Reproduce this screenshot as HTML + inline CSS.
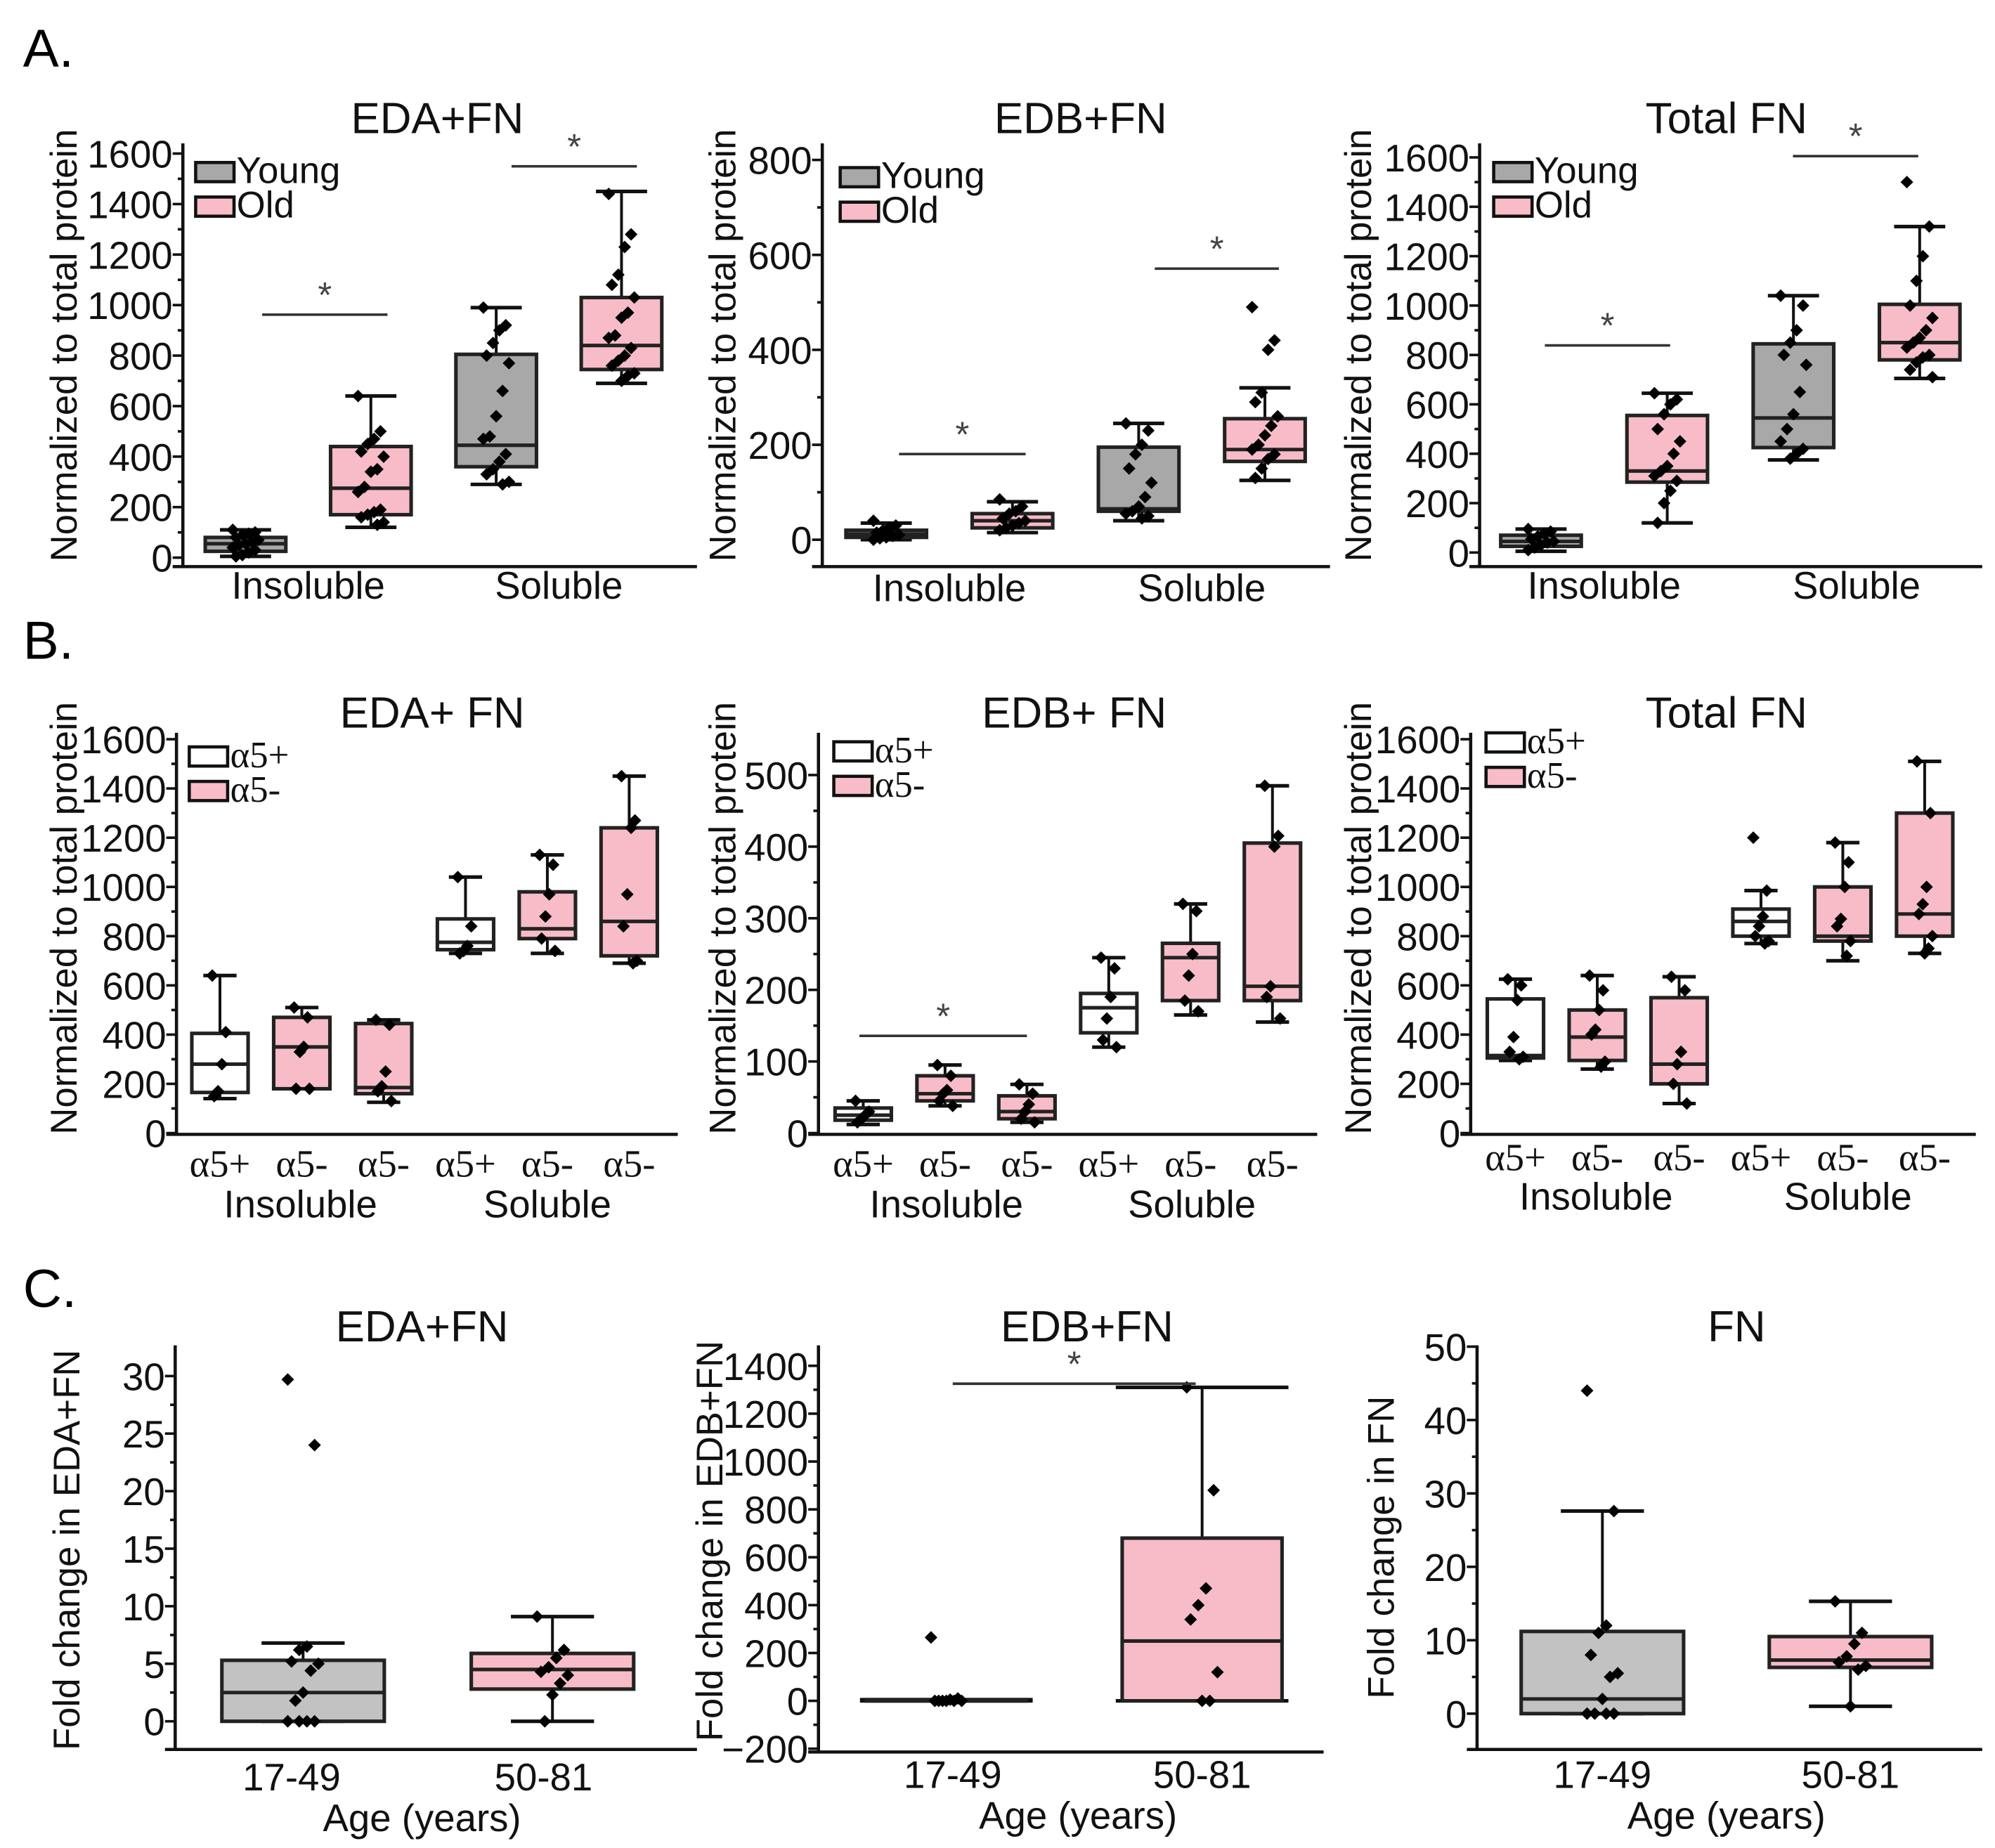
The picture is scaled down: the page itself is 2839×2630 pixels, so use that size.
<!DOCTYPE html>
<html><head><meta charset="utf-8"><style>
html,body{margin:0;padding:0;background:#fff;}
svg{display:block;font-family:"Liberation Sans",Arial,sans-serif;}
</style></head><body>
<svg id="fig" xmlns="http://www.w3.org/2000/svg" width="2839" height="2630" viewBox="0 0 1560 1445">
<text x="18" y="52" font-size="42">A.</text>
<text x="18" y="515" font-size="42">B.</text>
<text x="18" y="1022" font-size="42">C.</text>
</svg>
<script>
// ---- data ----
const catA = ["Insoluble","Soluble"];
const subB = ["α5+","α5-","α5-","α5+","α5-","α5-"];
const catC = ["17-49","50-81"];
// box stats: [whiskerLo, q1, median, q3, whiskerHi]
const a1Boxes = [[5,25,55,80,110],[120,170,275,440,640],[290,360,445,805,990],[690,745,840,1030,1450]];
const a1Pts = [[110,100,95,90,80,70,60,55,50,40,30,20,10,5],[640,500,470,450,420,400,350,340,280,260,190,180,170,160,140,130],[990,920,900,850,800,770,660,560,480,470,410,380,350,330,300,290],[1440,1280,1230,1120,1080,1030,970,950,880,870,830,800,780,760,730,720,700]];
const a2Boxes = [[0,5,12,20,35],[15,25,40,55,80],[40,60,65,195,245],[125,165,190,255,320]];
const a2Pts = [[40,30,25,20,15,10,8,5,3,0],[85,70,60,55,45,40,35,30,25,20],[245,230,200,180,150,120,90,70,60,55,50,45],[490,420,400,310,290,260,240,220,200,190,180,170,150,130]];
const a3Boxes = [[5,25,45,70,95],[120,285,330,555,645],[375,425,545,845,1040],[705,780,850,1005,1320]];
const a3Pts = [[95,85,75,65,55,45,40,30,20,10],[645,620,600,560,500,450,400,350,330,310,290,250,200,120],[1040,1000,900,850,800,760,650,560,500,450,420,400,380],[1500,1320,1200,1100,1000,950,900,870,850,830,800,790,770,740,710]];
const b1Boxes = [[140,165,280,405,640],[180,180,350,470,510],[125,160,185,445,460],[730,745,775,870,1040],[730,790,830,980,1130],[690,720,860,1240,1450]];
const b1Pts = [[640,410,280,170,150],[510,470,350,330,180,180],[460,440,250,190,170,130],[1040,840,760,740,730],[1130,1090,970,880,790,740],[1450,1270,1240,970,840,700,690]];
const b2Boxes = [[12,18,25,35,45],[38,45,55,80,95],[15,20,30,52,68],[120,140,175,195,245],[165,185,245,265,320],[155,185,205,405,485]];
const b2Pts = [[45,30,25,20,15],[95,80,60,55,45,38],[68,55,40,30,20,15],[245,230,190,160,130,120],[320,310,250,220,185,170],[485,415,400,205,190,160]];
const b3Boxes = [[295,305,315,545,625],[260,295,390,500,640],[120,200,280,550,635],[770,800,860,910,985],[700,780,800,1000,1180],[730,800,890,1300,1510]];
const b3Pts = [[625,600,540,390,330,310,300],[640,580,500,420,400,290,270],[635,580,330,280,200,120],[1200,985,880,840,800,780,770],[1180,1100,1000,870,840,780,720],[1510,1300,1000,930,890,800,750,730]];
const c1Boxes = [[0,0,2.5,5.3,6.8],[0,2.8,4.5,5.9,9.1]];
const c1Pts = [[29.7,24,6.5,6.2,5.2,5,4.4,2.5,1.8,0,0,0,0],[9.1,6.2,5.5,4.7,4.3,4,3.3,2.3,0]];
const c2Boxes = [[0,0,0,5,5],[0,0,250,680,1310]];
const c2Pts = [[265,10,5,0,0,0,0,0,0],[1310,880,470,400,340,120,0,0]];
const c3Boxes = [[0,0,2,11.2,27.6],[1,6.3,7.3,10.5,15.3]];
const c3Pts = [[44,27.6,12,11,8,5.5,5,2,0,0,0,0],[15.3,11,9.5,7.8,7,6.5,6,1]];
const tA16 = [0,200,400,600,800,1000,1200,1400,1600];
const tA8 = [0,200,400,600,800];
const tB5 = [0,100,200,300,400,500];
const tC1 = [0,5,10,15,20,25,30];
const tC2 = [-200,0,200,400,600,800,1000,1200,1400];
const tC3 = [0,10,20,30,40,50];

// ---- drawing ----
const svg = document.getElementById('fig');
const NS = 'http://www.w3.org/2000/svg';
function mk(tag, attrs, parent){const e=document.createElementNS(NS,tag);for(const k in attrs)e.setAttribute(k,attrs[k]);(parent||svg).appendChild(e);return e;}
function txt(s,x,y,size,anchor,parent,extra){const e=mk('text',Object.assign({x:x,y:y,'font-size':size,'text-anchor':anchor||'middle',fill:'#111'},extra||{}),parent);e.textContent=s;return e;}
const GRAY='#a8a8a8', LGRAY='#c2c2c2', PINK='#f7bcc8', WHITE='#ffffff';

function panel(cfg){
  const g=mk('g',{});
  
  
  const y=v=>cfg.py0+(v-cfg.v0)*(cfg.py1-cfg.py0)/(cfg.v1-cfg.v0);
  const x=i=>cfg.xs+i*cfg.step;
  const t=txt(cfg.title,cfg.titleX,cfg.titleY,34,'middle',g);
  
  const ya=mk('line',{x1:cfg.left,x2:cfg.left,y1:cfg.top,y2:cfg.bottom,stroke:'#111','stroke-width':2.5},g);
  
  const xa=mk('line',{x1:cfg.left-8,x2:cfg.right,y1:cfg.bottom,y2:cfg.bottom,stroke:'#111','stroke-width':2.5},g);
  
  const ticks=cfg.ticks; const minor=(ticks[1]-ticks[0])/2;
  for(let v=ticks[0];v<=ticks[ticks.length-1]+1e-9;v+=minor){
    const isMaj=ticks.some(t=>Math.abs(t-v)<1e-9);
    mk('line',{x1:cfg.left-(isMaj?8:4),x2:cfg.left,y1:y(v),y2:y(v),stroke:'#111','stroke-width':2},g);
  }
  ticks.forEach(v=>{const e=txt(String(v).replace('-','−'),cfg.left-8,y(v)+11,30,'end',g);
    });
  const yt=txt(cfg.ytitle,0,0,29,'middle',g,{transform:`translate(${cfg.ytX},${cfg.ytY}) rotate(-90)`});
  
  cfg.boxes.forEach((b,i)=>{
    const cx=x(i), w=cfg.bw, bg=mk('g',{},g);
    
    const cw=cfg.capw;
    mk('line',{x1:cx,x2:cx,y1:y(b[0]),y2:y(b[4]),stroke:'#111','stroke-width':2.2},bg);
    mk('line',{x1:cx-cw/2,x2:cx+cw/2,y1:y(b[0]),y2:y(b[0]),stroke:'#111','stroke-width':2.8},bg);
    mk('line',{x1:cx-cw/2,x2:cx+cw/2,y1:y(b[4]),y2:y(b[4]),stroke:'#111','stroke-width':2.8},bg);
    const h=Math.max(1,y(b[1])-y(b[3]));
    mk('rect',{x:cx-w/2,y:y(b[3]),width:w,height:h,fill:cfg.fills[i],stroke:'#222','stroke-width':2.8},bg);
    mk('line',{x1:cx-w/2,x2:cx+w/2,y1:y(b[2]),y2:y(b[2]),stroke:'#222','stroke-width':2.8},bg);
    cfg.pts[i].forEach((p,j)=>{
      const off=(((j*7)%9)-4)*cfg.jit;
      const d=mk('rect',{x:cx+off-3.5,y:y(p)-3.5,width:7,height:7,fill:'#000',transform:`rotate(45 ${cx+off} ${y(p)})`},bg);
      
    });
  });
  cfg.xlabels.forEach(l=>{const e=txt(l.t,l.x,l.y,30,'middle',g,l.serif?{'font-family':'"Liberation Serif",serif'}:{});
    });
  (cfg.sub||[]).forEach(l=>{const e=txt(l.t,l.x,l.y,30,'middle',g);});
  if(cfg.legend){cfg.legend.forEach((L,k)=>{
    const lg=mk('g',{},g);
    mk('rect',{x:cfg.legX,y:cfg.legY+k*27,width:30,height:15,fill:L.c,stroke:'#111','stroke-width':2.5},lg);
    txt(L.t,cfg.legX+32,cfg.legY+k*27+16,29,'start',lg,L.serif?{'font-family':'"Liberation Serif",serif'}:{});
  });}
  (cfg.sig||[]).forEach(s=>{
    const sg=mk('g',{},g);
    mk('line',{x1:s.x1,x2:s.x2,y1:s.y,y2:s.y,stroke:'#333','stroke-width':2},sg);
    txt('*',(s.x1+s.x2)/2,s.y-6,28,'middle',sg,{fill:'#444'});
  });
}
const legYO=[{t:'Young',c:GRAY},{t:'Old',c:PINK}];
const legA=[{t:'α5+',c:WHITE,serif:true},{t:'α5-',c:PINK,serif:true}];
const fA=[GRAY,PINK,GRAY,PINK], fB=[WHITE,PINK,PINK,WHITE,PINK,PINK], fC=[LGRAY,PINK];
function xlA(x0,step,yy){return catA.map((c,i)=>({t:c,x:x0+step*(2*i+0.5),y:yy}));}
function xlB(x0,step,yy){return subB.map((c,i)=>({t:c,x:x0+i*step,y:yy,serif:true}));}

panel({name:'chart-a-eda',title:'EDA+FN',titleX:342,titleY:104,left:143,right:545,top:112,bottom:443,v0:0,py0:436,v1:1600,py1:120,ticks:tA16,xs:192,step:98,bw:63,capw:40,jit:2.5,boxes:a1Boxes,pts:a1Pts,fills:fA,
  ytitle:'Normalized to total protein',ytX:60,ytY:270,xlabels:xlA(192,98,468),legend:legYO,legX:153,legY:127,sig:[{x1:205,x2:303,y:246},{x1:400,x2:498,y:130}]});
panel({name:'chart-a-edb',title:'EDB+FN',titleX:845,titleY:104,left:643,right:1040,top:112,bottom:443,v0:0,py0:422,v1:800,py1:125,ticks:tA8,xs:693,step:98.7,bw:63,capw:40,jit:2.5,boxes:a2Boxes,pts:a2Pts,fills:fA,
  ytitle:'Normalized to total protein',ytX:575,ytY:270,xlabels:xlA(693,98.7,470),legend:legYO,legX:657,legY:131,sig:[{x1:703,x2:802,y:355},{x1:903,x2:1000,y:210}]});
panel({name:'chart-a-total',title:'Total FN',titleX:1350,titleY:104,left:1157,right:1550,top:112,bottom:443,v0:0,py0:432,v1:1600,py1:123,ticks:tA16,xs:1205,step:98.7,bw:63,capw:40,jit:2.5,boxes:a3Boxes,pts:a3Pts,fills:fA,
  ytitle:'Normalized to total protein',ytX:1072,ytY:270,xlabels:xlA(1205,98.7,468),legend:legYO,legX:1168,legY:127,sig:[{x1:1208,x2:1306,y:270},{x1:1402,x2:1500,y:122}]});
panel({name:'chart-b-eda',title:'EDA+ FN',titleX:338,titleY:569,left:138,right:530,top:573,bottom:887,v0:0,py0:886,v1:1600,py1:578,ticks:tA16,xs:172,step:64,bw:44,capw:26,jit:1.5,boxes:b1Boxes,pts:b1Pts,fills:fB,
  ytitle:'Normalized to total protein',ytX:60,ytY:718,xlabels:xlB(172,64,920),sub:[{t:'Insoluble',x:235,y:952},{t:'Soluble',x:428,y:952}],legend:legA,legX:148,legY:584});
panel({name:'chart-b-edb',title:'EDB+ FN',titleX:840,titleY:569,left:640,right:1030,top:573,bottom:887,v0:0,py0:886,v1:500,py1:606,ticks:tB5,xs:675,step:64,bw:44,capw:26,jit:1.5,boxes:b2Boxes,pts:b2Pts,fills:fB,
  ytitle:'Normalized to total protein',ytX:575,ytY:718,xlabels:xlB(675,64,920),sub:[{t:'Insoluble',x:740,y:952},{t:'Soluble',x:932,y:952}],legend:legA,legX:652,legY:580,sig:[{x1:672,x2:803,y:810}]});
panel({name:'chart-b-total',title:'Total FN',titleX:1350,titleY:569,left:1150,right:1545,top:573,bottom:887,v0:0,py0:886,v1:1600,py1:578,ticks:tA16,xs:1185,step:64,bw:44,capw:26,jit:1.5,boxes:b3Boxes,pts:b3Pts,fills:fB,
  ytitle:'Normalized to total protein',ytX:1072,ytY:718,xlabels:xlB(1185,64,915),sub:[{t:'Insoluble',x:1248,y:946},{t:'Soluble',x:1445,y:946}],legend:legA,legX:1162,legY:573});
panel({name:'chart-c-eda',title:'EDA+FN',titleX:330,titleY:1049,left:137,right:545,top:1052,bottom:1368,v0:0,py0:1346,v1:30,py1:1076,ticks:tC1,xs:237,step:195,bw:127,capw:65,jit:3,boxes:c1Boxes,pts:c1Pts,fills:fC,
  ytitle:'Fold change in EDA+FN',ytX:62,ytY:1212,xlabels:catC.map((c,i)=>({t:c,x:228+i*197,y:1400})),sub:[{t:'Age (years)',x:330,y:1432}]});
panel({name:'chart-c-edb',title:'EDB+FN',titleX:850,titleY:1049,left:640,right:1035,top:1052,bottom:1370,v0:0,py0:1330,v1:1400,py1:1068,ticks:tC2,xs:740,step:200,bw:125,capw:135,jit:3,boxes:c2Boxes,pts:c2Pts,fills:['none',PINK],
  ytitle:'Fold change in EDB+FN',ytX:565,ytY:1205,xlabels:catC.map((c,i)=>({t:c,x:745+i*195,y:1398})),sub:[{t:'Age (years)',x:843,y:1430}],sig:[{x1:745,x2:935,y:1082}]});
panel({name:'chart-c-total',title:'FN',titleX:1358,titleY:1049,left:1155,right:1550,top:1052,bottom:1368,v0:0,py0:1340,v1:50,py1:1053,ticks:tC3,xs:1253,step:194,bw:127,capw:65,jit:3,boxes:c3Boxes,pts:c3Pts,fills:fC,
  ytitle:'Fold change in FN',ytX:1090,ytY:1210,xlabels:catC.map((c,i)=>({t:c,x:1253+i*194,y:1398})),sub:[{t:'Age (years)',x:1350,y:1430}]});
</script>
</body></html>
